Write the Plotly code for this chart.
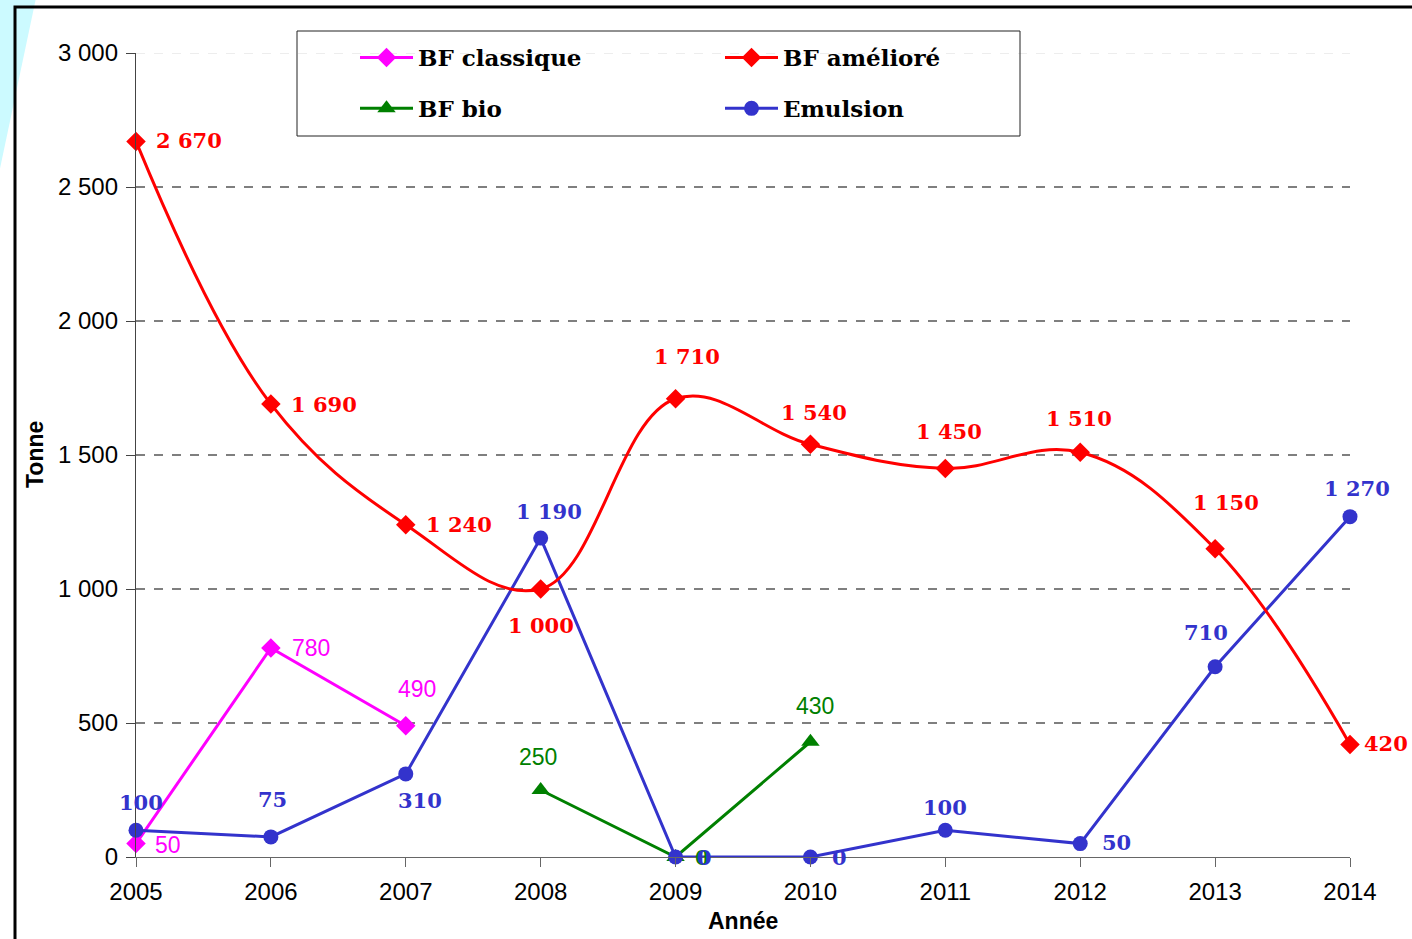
import plotly.graph_objects as go

# ---------------- data ----------------
years = [2005, 2006, 2007, 2008, 2009, 2010, 2011, 2012, 2013, 2014]
bf_classique_years = [2005, 2006, 2007]
bf_classique = [50, 780, 490]
bf_ameliore = [2670, 1690, 1240, 1000, 1710, 1540, 1450, 1510, 1150, 420]
bf_bio_years = [2008, 2009, 2010]
bf_bio = [250, 0, 430]
emulsion = [100, 75, 310, 1190, 0, 0, 100, 50, 710, 1270]
y_ticks = [0, 500, 1000, 1500, 2000, 2500, 3000]

# ---------------- geometry helpers ----------------
W, H = 1412, 939
ML, MR, MT, MB = 136, 62, 53, 82
PW, PH = W - ML - MR, H - MT - MB


def pxx(x):
    return (x - ML) / PW


def pxy(y):
    return (H - MB - y) / PH


def fmt(v):
    return f"{v:,}".replace(",", " ")


RED = "#FF0000"
BLUE = "#3333CC"
MAG = "#FF00FF"
GREEN = "#008000"
SERIF_B = "DejaVu Serif"
SANS = "Liberation Sans, Arial, sans-serif"

fig = go.Figure()

fig.add_trace(go.Scatter(
    x=bf_classique_years, y=bf_classique, name="BF classique", mode="lines+markers",
    line=dict(color=MAG, width=3), marker=dict(symbol="diamond", size=15, color=MAG),
    cliponaxis=False, legend="legend", legendgroup="a"))
fig.add_trace(go.Scatter(
    x=bf_bio_years, y=bf_bio, name="BF bio", mode="lines+markers",
    line=dict(color=GREEN, width=3), marker=dict(symbol="triangle-up", size=16, color=GREEN),
    cliponaxis=False, legend="legend", legendgroup="b"))
fig.add_trace(go.Scatter(
    x=years, y=emulsion, name="Emulsion", mode="lines+markers",
    line=dict(color=BLUE, width=3), marker=dict(symbol="circle", size=15, color=BLUE),
    cliponaxis=False, legend="legend2", legendgroup="d"))
fig.add_trace(go.Scatter(
    x=years, y=bf_ameliore, name="BF amélioré", mode="lines+markers",
    line=dict(color=RED, width=3, shape="spline", smoothing=1.1),
    marker=dict(symbol="diamond", size=15, color=RED),
    cliponaxis=False, legend="legend2", legendgroup="c", legendrank=1))

annotations = []


def add_labels(xs, ys, offsets, color, family, bold, size):
    for x, y, (anc, dx, dy) in zip(xs, ys, offsets):
        txt = fmt(y)
        if bold:
            txt = f"<b>{txt}</b>"
        annotations.append(dict(
            x=x, y=y, xref="x", yref="y", text=txt, showarrow=False,
            xanchor=anc, yanchor="middle", xshift=dx, yshift=dy,
            font=dict(family=family, size=size, color=color)))


green_off = [("center", -3, 33), ("left", 17, 0), ("center", 5, 36)]
mag_off = [("left", 17, -1), ("left", 19, 0), ("center", 11, 37)]
red_off = [("left", 18, 1), ("left", 18, 0), ("left", 18, 0), ("center", 0, -36),
           ("center", 11, 42), ("center", 4, 32), ("center", 4, 37), ("center", -1, 34),
           ("center", 11, 46), ("left", 12, 1)]
blue_off = [("center", 5, 28), ("center", 2, 37), ("center", 14, -27), ("center", 8, 27),
            ("left", 19, 0), ("left", 20, 0), ("center", 0, 23), ("left", 20, 1),
            ("center", -9, 34), ("center", 7, 28)]

add_labels(bf_bio_years[:1] + bf_bio_years[2:], bf_bio[:1] + bf_bio[2:],
           green_off[:1] + green_off[2:], GREEN, SANS, False, 23)
add_labels(bf_bio_years[1:2], bf_bio[1:2], green_off[1:2], GREEN, SERIF_B, True, 21)
add_labels(bf_classique_years, bf_classique, mag_off, MAG, SANS, False, 23)
add_labels(years, bf_ameliore, red_off, RED, SERIF_B, True, 21)
add_labels(years, emulsion, blue_off, BLUE, SERIF_B, True, 21)

# axis titles
annotations.append(dict(x=pxx(35), y=0.5, xref="paper", yref="paper", text="<b>Tonne</b>",
                        textangle=-90, showarrow=False, xanchor="center", yanchor="middle",
                        font=dict(family=SANS, size=23, color="black")))
annotations.append(dict(x=0.5, y=pxy(921), xref="paper", yref="paper", text="<b>Année</b>",
                        showarrow=False, xanchor="center", yanchor="middle",
                        font=dict(family=SANS, size=23, color="black")))

shapes = []
# cyan background wedge
shapes.append(dict(type="path", xref="paper", yref="paper", layer="below",
                   path=f"M {pxx(-2)},{pxy(-2)} L {pxx(36)},{pxy(-2)} L {pxx(-2)},{pxy(178)} Z",
                   fillcolor="#CCFAFF", line=dict(width=0)))
# chart border (top and left)
shapes.append(dict(type="path", xref="paper", yref="paper", layer="below",
                   path=f"M {pxx(15)},{pxy(945)} L {pxx(15)},{pxy(7)} L {pxx(1420)},{pxy(7)}",
                   line=dict(color="black", width=3)))
# grid lines
for v in y_ticks[1:]:
    faint = v == max(y_ticks)
    shapes.append(dict(type="line", xref="paper", yref="y", x0=0, x1=1, y0=v, y1=v,
                       layer="below",
                       line=dict(color="#E8E8E8" if faint else "#555555", width=1.3,
                                 dash="dash")))
# legend box
shapes.append(dict(type="rect", xref="paper", yref="paper", layer="above",
                   x0=pxx(297), x1=pxx(1020), y0=pxy(136), y1=pxy(31),
                   line=dict(color="#222222", width=1), fillcolor="rgba(0,0,0,0)"))

legend_font = dict(family=SERIF_B, size=23, color="black", weight="bold")
common_leg = dict(orientation="v", bgcolor="rgba(0,0,0,0)", borderwidth=0,
                  font=legend_font, tracegroupgap=18, xanchor="left", yanchor="top",
                  itemclick=False, itemdoubleclick=False, itemwidth=53)

fig.update_layout(
    width=W, height=H,
    margin=dict(l=ML, r=MR, t=MT, b=MB),
    paper_bgcolor="white", plot_bgcolor="white",
    showlegend=True,
    legend=dict(x=pxx(355), y=pxy(36), **common_leg),
    legend2=dict(x=pxx(720), y=pxy(36), **common_leg),
    xaxis=dict(range=[2005, 2014], tickvals=years, ticktext=[str(y) for y in years],
               showgrid=False, zeroline=False, showline=True, linecolor="#666666", linewidth=1.3,
               ticks="outside", ticklen=9, tickcolor="#666666", tickwidth=1.3,
               ticklabelstandoff=4,
               tickfont=dict(family=SANS, size=24, color="black")),
    yaxis=dict(range=[0, 3000], tickvals=y_ticks, ticktext=[fmt(v) for v in y_ticks],
               showgrid=False, zeroline=False, showline=True, linecolor="#444444", linewidth=1.3,
               ticks="outside", ticklen=9, tickcolor="#444444", tickwidth=1.3,
               ticklabelstandoff=3,
               tickfont=dict(family=SANS, size=24, color="black")),
    annotations=annotations,
    shapes=shapes,
)

fig.write_html("out.html", config={"displayModeBar": False},
               post_script="document.body.style.margin='0';document.body.style.overflow='hidden';")
